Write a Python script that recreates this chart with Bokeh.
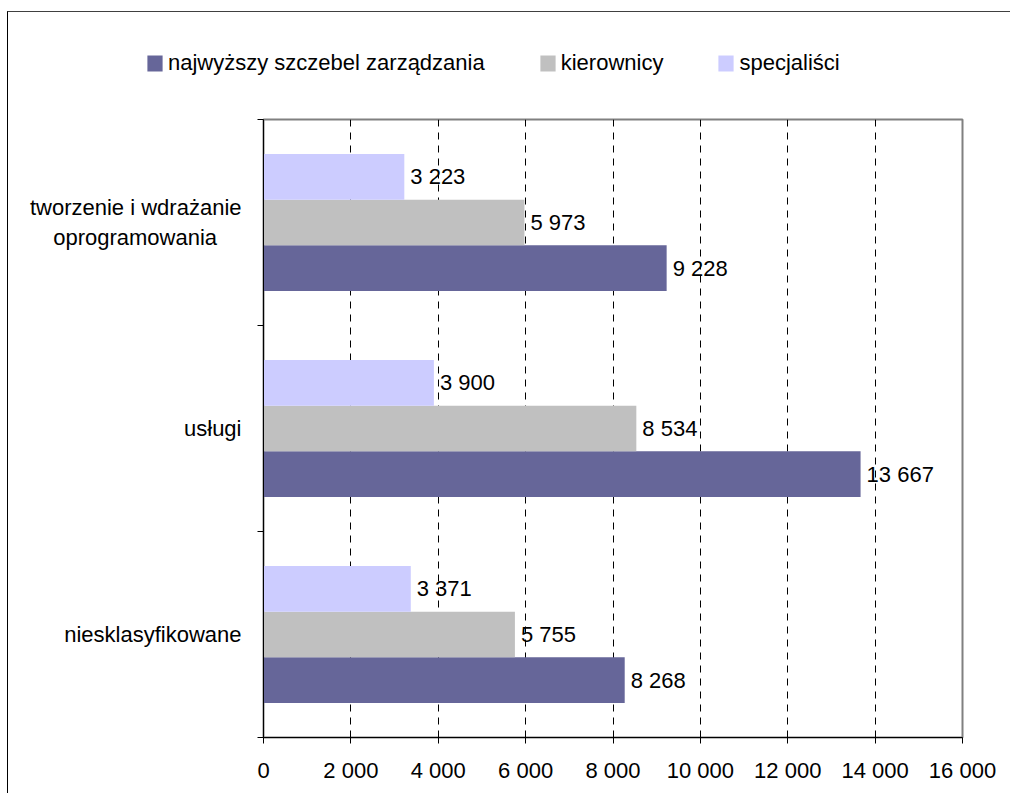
from bokeh.plotting import figure
from bokeh.layouts import column
from bokeh.models import ColumnDataSource, FixedTicker, Range1d, Legend, LegendItem
from bokeh.core.properties import value
from bokeh.embed import file_html
from bokeh.resources import INLINE

# ---- data ----
NB = "\u00a0"
categories = ["niesklasyfikowane", "usługi",
              "tworzenie i wdrażanie\noprogramowania" + NB * 4]
series_names = ["najwyższy szczebel zarządzania", "kierownicy", "specjaliści"]
najwyzszy = [8268, 13667, 9228]
kierownicy = [5755, 8534, 5973]
specjalisci = [3371, 3900, 3223]
x_ticks = [0, 2000, 4000, 6000, 8000, 10000, 12000, 14000, 16000]
colors = ["#666699", "#C0C0C0", "#CCCCFF"]

FONT = "Liberation Sans"

def fmt(v):
    return f"{v:,}".replace(",", " ")

W = 1002
H_LEG = 80
H_MAIN = 781 - H_LEG

# ---- main chart ----
p = figure(width=W, height=H_MAIN, output_backend="svg", toolbar_location=None,
           x_range=Range1d(0, 16000), y_range=Range1d(0, 3),
           min_border_left=255, min_border_right=48, min_border_top=107 - H_LEG,
           min_border_bottom=56, frame_width=699, frame_height=618)

p.outline_line_color = "#808080"
p.outline_line_width = 2
p.background_fill_color = "white"
p.border_fill_color = "white"

bar_h = 0.222
centers = [i + 0.5 for i in range(len(categories))]
series = [najwyzszy, kierownicy, specjalisci]
offsets = [-bar_h, 0.0, bar_h]
sources = []
for vals, off, col in zip(series, offsets, colors):
    src = ColumnDataSource(dict(y=[c + off for c in centers], right=vals,
                                lab=[fmt(v) for v in vals]))
    sources.append(src)
    p.hbar(y="y", left=0, right="right", height=bar_h, source=src,
           fill_color=col, line_color=None)
    p.text(x="right", y="y", text="lab", source=src, x_offset=6,
           text_align="left", text_baseline="middle", text_color="black",
           text_font=value(FONT), text_font_size="22px")

# grid
p.ygrid.visible = False
p.xgrid.ticker = FixedTicker(ticks=x_ticks[1:-1])
p.xgrid.grid_line_color = "black"
p.xgrid.grid_line_dash = "7 6"
p.xgrid.grid_line_width = 1

# x axis
p.xaxis.ticker = FixedTicker(ticks=x_ticks)
p.xaxis.major_label_overrides = {t: fmt(t) for t in x_ticks}
p.xaxis.major_tick_out = 6
p.xaxis.major_tick_in = 0
p.xaxis.minor_tick_out = 0
p.xaxis.minor_tick_in = 0
p.xaxis.major_label_standoff = 14
p.xaxis.axis_line_color = "black"
p.xaxis.major_tick_line_color = "black"
p.xaxis.major_label_text_color = "black"
p.xaxis.major_label_text_font = FONT
p.xaxis.major_label_text_font_size = "22px"

# y axis
p.yaxis.ticker = FixedTicker(ticks=centers, minor_ticks=[0, 1, 2, 3])
p.yaxis.major_label_overrides = {c: lab for c, lab in zip(centers, categories)}
p.yaxis.major_tick_out = 0
p.yaxis.major_tick_in = 0
p.yaxis.minor_tick_out = 6
p.yaxis.minor_tick_in = 0
p.yaxis.minor_tick_line_color = "black"
p.yaxis.major_label_standoff = 16
p.yaxis.axis_line_color = "black"
p.yaxis.major_label_text_color = "black"
p.yaxis.major_label_text_font = FONT
p.yaxis.major_label_text_font_size = "22px"

# ---- legend strip (bars of the same sources, out of its visible y range) ----
pl = figure(width=W, height=H_LEG, output_backend="svg", toolbar_location=None,
            x_range=Range1d(0, W), y_range=Range1d(100, 200),
            min_border=0, min_border_left=0, min_border_right=0,
            min_border_top=0, min_border_bottom=0)
pl.axis.visible = False
pl.grid.visible = False
pl.outline_line_color = None
pl.background_fill_alpha = 0
pl.border_fill_alpha = 0
leg_renderers = [pl.hbar(y="y", left=0, right="right", height=bar_h, source=s,
                         fill_color=c, line_color=None)
                 for s, c in zip(sources, colors)]
items = [LegendItem(label=n, renderers=[r]) for n, r in zip(series_names, leg_renderers)]
legend = Legend(items=items, orientation="horizontal", location=(0, 16),
                glyph_width=19, glyph_height=20, label_standoff=4, spacing=53,
                padding=0, margin=0, border_line_alpha=0, background_fill_alpha=0,
                label_text_font=FONT, label_text_font_size="22px",
                label_text_color="black")
pl.add_layout(legend, "center")
pl.styles = {"transform": "translateX(-118px)"}

layout = column(pl, p, spacing=0)
layout.margin = (11, 0, 0, 7)
layout.styles = {"border-left": "1px solid black", "border-top": "1px solid #404040"}

open("out.html", "w").write(file_html(layout, INLINE))
